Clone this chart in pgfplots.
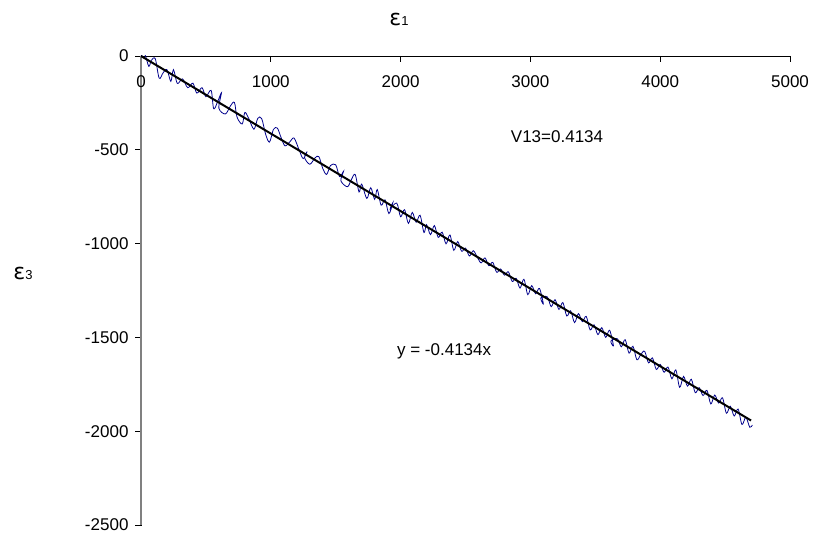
\documentclass[border=0pt]{standalone}
\usepackage{pgfplots}
\pgfplotsset{compat=1.18}
\usepackage{fontspec}
\setmainfont{Liberation Sans}
\newfontfamily\epsfont{DejaVu Sans}
\definecolor{navyline}{RGB}{0,0,140}
\begin{document}
\begin{tikzpicture}
\begin{axis}[
 scale only axis, width=649bp, height=469bp,
 xmin=0, xmax=5000, ymin=-2500, ymax=0,
 axis x line=top, axis y line=left,
 axis line style={-},
 x axis line style={black, line width=0.8pt},
 y axis line style={gray, line width=1.2pt},
 xtick={0,1000,2000,3000,4000,5000}, xticklabels={0,1000,2000,3000,4000,5000},
 ytick={-2500,-2000,-1500,-1000,-500,0}, yticklabels={-2500,-2000,-1500,-1000,-500,0},
 tick align=center, major tick length=6bp,
 xtick style={black, line width=0.8pt, yshift=-3bp},
 ytick style={black, line width=0.8pt, xshift=-2.5bp},
 tick label style={font=\fontsize{17bp}{20bp}\selectfont},
 xticklabel style={anchor=north, yshift=-19bp},
 yticklabel style={anchor=east, xshift=-6bp},
 clip mode=individual,
]
\addplot[navyline, line width=0.8pt, smooth, tension=0.55, mark=none] coordinates {
(0,0) (30,8) (60,-55) (80,-23) (110,-15) (140,-118) (170,-90) (200,-73) (230,-135)
(250,-73) (280,-146) (320,-122) (360,-169) (400,-145) (430,-198) (470,-169) (500,-217)
(540,-183) (560,-281) (590,-244) (620,-196) (600,-278) (650,-309) (690,-265) (720,-248)
(740,-326) (780,-362) (800,-301) (830,-333) (870,-390) (900,-332) (930,-334) (960,-417)
(990,-459) (1020,-392) (1050,-384) (1080,-436) (1110,-479) (1150,-455) (1180,-438)
(1220,-504) (1250,-547) (1280,-509) (1260,-541) (1300,-577) (1340,-544) (1370,-536)
(1400,-599) (1430,-631) (1460,-584) (1500,-580) (1530,-643) (1560,-615) (1540,-665) (1590,-697)
(1620,-660) (1650,-632) (1680,-725) (1700,-683) (1740,-759) (1770,-702) (1800,-764)
(1820,-712) (1850,-795) (1880,-767) (1910,-840) (1940,-782) (1920,-815) (1970,-784) (2000,-857)
(2030,-819) (2060,-892) (2090,-834) (2120,-886) (2150,-849) (2180,-941) (2200,-899)
(2230,-952) (2260,-904) (2290,-967) (2320,-939) (2350,-1001) (2380,-954) (2410,-1036)
(2440,-989) (2470,-1041) (2500,-1024) (2530,-1066) (2560,-1038) (2590,-1071) (2620,-1103)
(2650,-1076) (2680,-1118) (2710,-1100) (2740,-1153) (2770,-1135) (2800,-1168) (2830,-1150)
(2860,-1202) (2890,-1185) (2920,-1237) (2950,-1190) (2980,-1272) (3010,-1224) (3040,-1267)
(3070,-1239) (3100,-1322) (3080,-1290) (3130,-1284) (3160,-1336) (3190,-1299) (3220,-1351) (3250,-1314)
(3280,-1386) (3310,-1358) (3340,-1421) (3370,-1373) (3400,-1416) (3430,-1388) (3460,-1460)
(3490,-1433) (3520,-1485) (3550,-1448) (3580,-1500) (3610,-1462) (3640,-1545) (3620,-1520) (3670,-1507)
(3700,-1550) (3730,-1512) (3760,-1584) (3790,-1547) (3820,-1619) (3850,-1592) (3880,-1574)
(3910,-1636) (3940,-1609) (3970,-1671) (4000,-1644) (4030,-1686) (4060,-1658) (4090,-1721)
(4120,-1673) (4150,-1766) (4180,-1708) (4210,-1760) (4240,-1723) (4270,-1795) (4300,-1768)
(4330,-1810) (4360,-1782) (4390,-1855) (4420,-1807) (4450,-1850) (4480,-1822) (4510,-1904)
(4540,-1867) (4570,-1919) (4600,-1882) (4630,-1964) (4660,-1926) (4690,-1979) (4710,-1967)
};
\addplot[black, line width=2pt, mark=none] coordinates {(0,0) (4700,-1943)};
\node[anchor=west, font=\fontsize{17bp}{20bp}\selectfont] at (axis cs:2823,-431) {V13=0.4134};
\node[anchor=west, font=\fontsize{17bp}{20bp}\selectfont] at (axis cs:1946,-1575) {y = -0.4134x};
\node[font=\fontsize{13bp}{16bp}\selectfont] at (axis description cs:0.3975,1.0768) {{\epsfont\fontsize{22bp}{22bp}\selectfont ε}1};
\node[font=\fontsize{13bp}{16bp}\selectfont] at (axis description cs:-0.1818,0.537) {{\epsfont\fontsize{22bp}{22bp}\selectfont ε}3};
\end{axis}
\pgfresetboundingbox
\path[use as bounding box] ([xshift=-141bp,yshift=-10bp]current axis.south west) rectangle ([xshift=25bp,yshift=56bp]current axis.north east);
\end{tikzpicture}
\end{document}
